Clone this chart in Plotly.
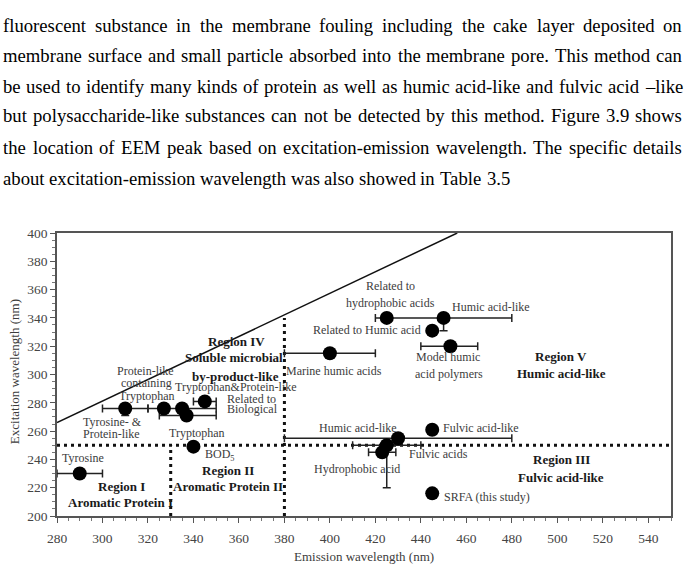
import plotly.graph_objects as go

# ---------------- data ----------------
names = ["Tyrosine", "Tyrosine- & Protein-like", "Protein-like containing Tryptophan",
         "Tryptophan", "Tryptophan b", "Related to Biological", "Tryptophan BOD5",
         "Marine humic acids", "Related to hydrophobic acids", "Humic acid-like",
         "Related to Humic acid", "Model humic acid polymers", "Fulvic acid-like",
         "Humic acid-like b", "Fulvic acids", "Hydrophobic acid", "SRFA (this study)"]
emission = [290, 310, 327, 335, 337, 345, 340, 400, 425, 450, 445, 453, 445, 430, 425, 423, 445]
excitation = [230, 276, 276, 276, 271, 281, 249, 315, 340, 340, 331, 320, 261, 255, 250, 245, 216]
em_err_minus = [10, 10, 0, 15, 12, 5, 0, 20, 0, 30, 0, 13, 0, 50, 15, 6, 0]
em_err_plus = [10, 10, 0, 15, 13, 5, 0, 20, 0, 30, 0, 12, 0, 50, 15, 6, 0]
ex_err_minus = [0, 5, 0, 0, 0, 0, 0, 0, 0, 9, 0, 0, 0, 0, 30, 0, 0]

diag_em = [280, 456]
diag_ex = [266, 400]
h_em = [280, 550]
h_ex = [250, 250]
v1_em = [330, 330]
v1_ex = [200, 250]
v2_em = [380, 380]
v2_ex = [200, 340]

x_ticks = list(range(280, 541, 20))
y_ticks = list(range(200, 401, 20))

paragraph = [
    "fluorescent substance in the membrane fouling including the cake layer deposited on",
    "membrane surface and small particle absorbed into the membrane pore. This method can",
    "be used to identify many kinds of protein as well as humic acid-like and fulvic acid \u2013like",
    "but polysaccharide-like substances can not be detected by this method. Figure 3.9 shows",
    "the location of EEM peak based on excitation-emission wavelength. The specific details",
    "about excitation-emission wavelength was also showed in Table 3.5",
]

# ---------------- layout constants ----------------
W, H = 684, 565
ML, MR, MT, MB = 57, 11, 233, 49
PW = W - ML - MR
PH = H - MT - MB

def px(xp):
    return (xp - ML) / PW

def py(yp):
    return (H - MB - yp) / PH

SERIF = "Liberation Serif, Times New Roman, serif"
LBL = "#3c3c3c"

fig = go.Figure()

# boundary lines
fig.add_trace(go.Scatter(x=diag_em, y=diag_ex, mode="lines",
                         line=dict(color="#111", width=1.5), hoverinfo="skip"))
for xs, ys in [(h_em, h_ex), (v1_em, v1_ex), (v2_em, v2_ex)]:
    fig.add_trace(go.Scatter(x=xs, y=ys, mode="lines",
                             line=dict(color="#111", width=3, dash="3px,4px"),
                             hoverinfo="skip"))

# points
fig.add_trace(go.Scatter(
    x=emission, y=excitation, mode="markers", text=names,
    marker=dict(color="black", size=14),
    error_x=dict(type="data", symmetric=False, array=em_err_plus,
                 arrayminus=em_err_minus, color="#222", thickness=1.5, width=4),
    error_y=dict(type="data", symmetric=False, array=[0] * len(ex_err_minus),
                 arrayminus=ex_err_minus, color="#222", thickness=1.5, width=4),
))

ann = []

def lab(t, x, y, anchor="center", bold=False, size=12):
    ann.append(dict(text=("<b>%s</b>" % t) if bold else t, x=x, y=y, xref="x", yref="y",
                    xanchor=anchor, yanchor="middle", showarrow=False,
                    font=dict(family=SERIF, size=13 if bold else size,
                              color="#1a1a1a" if bold else LBL)))

# point labels
lab("Tyrosine", 291.4, 241.0)
lab("Tyrosine- &amp;", 304.5, 266.2)
lab("Protein-like", 304.1, 258.2)
lab("Protein-like", 319.0, 302.5)
lab("containing", 319.4, 294.0)
lab("Tryptophan", 319.4, 284.8)
lab("Tryptophan&amp;Protein-like", 358.9, 291.0)
lab("Related to", 354.0, 283.0, "left")
lab("Biological", 354.0, 275.4, "left")
lab("Tryptophan", 341.4, 258.7)
lab("BOD<sub>5</sub>", 344.0, 243.1, "left")
lab("Marine humic acids", 401.9, 302.5)
lab("Related to", 426.8, 362.5)
lab("hydrophobic acids", 426.8, 350.5)
lab("Humic acid-like", 452.7, 347.7, "left")
lab("Related to Humic acid", 441.0, 331.4, "right")
lab("Model humic", 451.8, 312.4)
lab("acid polymers", 452.3, 300.4)
lab("Humic acid-like", 412.4, 262.2)
lab("Fulvic acid-like", 448.8, 262.2, "left")
lab("Fulvic acids", 433.9, 243.8, "left")
lab("Hydrophobic acid", 411.9, 233.2)
lab("SRFA (this study)", 449.5, 213.4, "left")

# region labels
lab("Region IV", 358.9, 323.0, bold=True)
lab("Soluble microbial", 358.0, 311.7, bold=True)
lab("by-product-like", 358.5, 298.9, bold=True)
lab("Region V", 501.8, 312.4, bold=True)
lab("Humic acid-like", 501.8, 300.4, bold=True)
lab("Region III", 501.8, 239.6, bold=True)
lab("Fulvic acid-like", 501.8, 226.9, bold=True)
lab("Region II", 355.0, 232.5, bold=True)
lab("Aromatic Protein II", 355.0, 220.5, bold=True)
lab("Region I", 308.5, 220.5, bold=True)
lab("Aromatic Protein I", 308.1, 209.2, bold=True)

# axis titles
ann.append(dict(text="Emission wavelength (nm)", x=px(365), y=py(556), xref="paper", yref="paper",
                xanchor="center", yanchor="middle", showarrow=False,
                font=dict(family=SERIF, size=13, color=LBL)))
ann.append(dict(text="Excitation wavelength (nm)", x=px(14), y=py(372), xref="paper", yref="paper",
                xanchor="center", yanchor="middle", showarrow=False, textangle=-90,
                font=dict(family=SERIF, size=13, color=LBL)))

# ---------------- justified paragraph ----------------
TW = {' ': 250, 'a': 444, 'b': 500, 'c': 444, 'd': 500, 'e': 444, 'f': 333, 'g': 500, 'h': 500,
      'i': 278, 'j': 278, 'k': 500, 'l': 278, 'm': 778, 'n': 500, 'o': 500, 'p': 500, 'q': 500,
      'r': 333, 's': 389, 't': 278, 'u': 500, 'v': 500, 'w': 722, 'x': 500, 'y': 500, 'z': 444,
      'A': 722, 'B': 667, 'C': 667, 'D': 722, 'E': 611, 'F': 556, 'G': 722, 'H': 722, 'I': 333,
      'J': 389, 'K': 722, 'L': 611, 'M': 889, 'N': 722, 'O': 722, 'P': 556, 'Q': 722, 'R': 667,
      'S': 556, 'T': 611, 'U': 722, 'V': 722, 'W': 944, 'X': 722, 'Y': 722, 'Z': 611,
      '.': 250, ',': 250, '-': 333, '\u2013': 500}
FS = 18.7
LEFT, RIGHT = 2, 683
line_y = [25, 55, 86, 116, 147, 178]

def wwidth(w):
    return sum(TW.get(c, 500) for c in w) * FS / 1000.0

for i, line in enumerate(paragraph):
    words = line.split(" ")
    widths = [wwidth(w) for w in words]
    if i < len(paragraph) - 1:
        gap = (RIGHT - LEFT - sum(widths)) / (len(words) - 1)
    else:
        gap = 250 * FS / 1000.0
    xcur = LEFT
    for w, wd in zip(words, widths):
        ann.append(dict(text=w, x=px(xcur), y=py(line_y[i]), xref="paper", yref="paper",
                        xanchor="left", yanchor="middle", showarrow=False, borderpad=0,
                        font=dict(family=SERIF, size=FS, color="black")))
        xcur += wd + gap

axis_common = dict(showgrid=False, zeroline=False, showline=True, mirror=True,
                   linecolor="#555", linewidth=1.5, ticks="outside", ticklen=5,
                   tickcolor="#555", tickwidth=1,
                   tickfont=dict(family=SERIF, size=13.5, color="#444"),
                   minor=dict(ticks="outside", ticklen=3, tickcolor="#777", dtick=5))

fig.update_layout(
    width=W, height=H, margin=dict(l=ML, r=MR, t=MT, b=MB),
    paper_bgcolor="white", plot_bgcolor="white", showlegend=False,
    annotations=ann,
    xaxis=dict(range=[280, 550], tickvals=x_ticks, ticklabelstandoff=4, **axis_common),
    yaxis=dict(range=[200, 400], tickvals=y_ticks, **axis_common),
)

fig.write_html("out.html")
